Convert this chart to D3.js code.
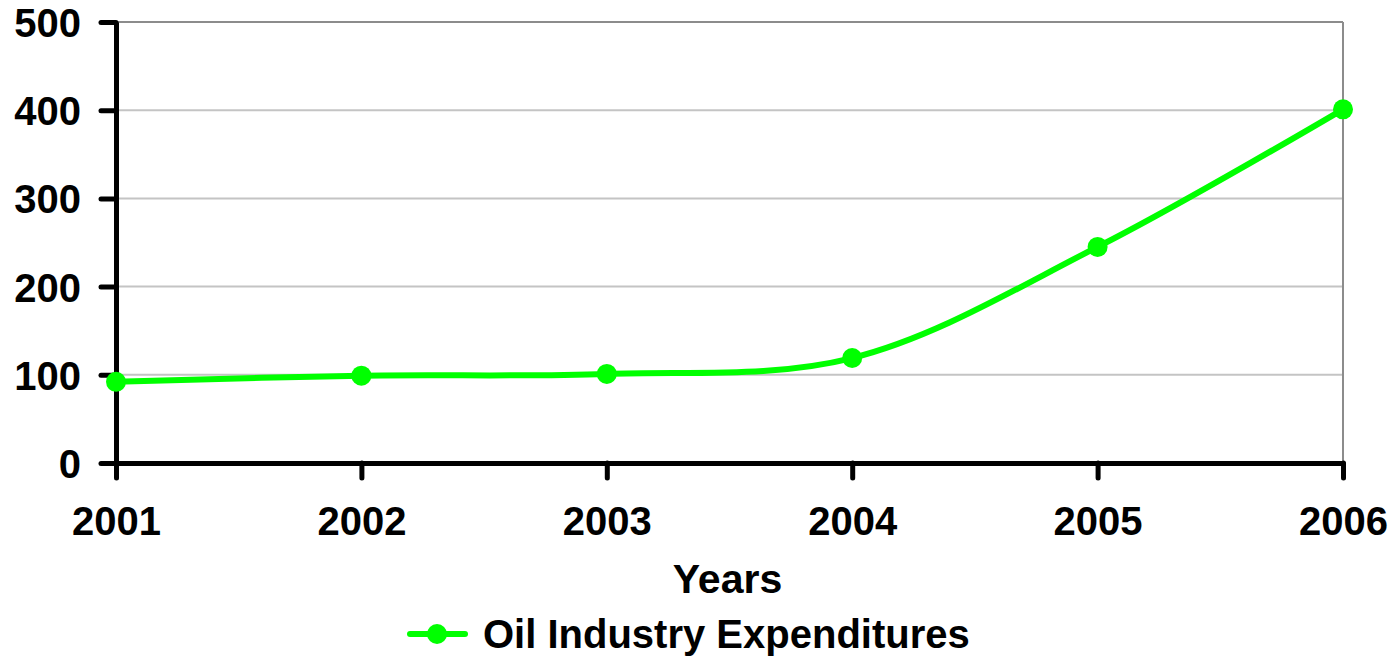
<!DOCTYPE html>
<html>
<head>
<meta charset="utf-8">
<script src="https://cdn.jsdelivr.net/npm/d3@7"></script>
<style>
  body { margin: 0; background: #fff; }
  text { font-family: "Liberation Sans", Arial, sans-serif; font-weight: bold; fill: #000; }
</style>
</head>
<body>
<div id="chart"></div>
<script>
// chart values
var years = ["2001", "2002", "2003", "2004", "2005", "2006"];
var expenditures = [92, 99, 101, 119, 245, 401];
var yTicks = [0, 100, 200, 300, 400, 500];
var seriesName = "Oil Industry Expenditures";
var xTitle = "Years";

var W = 1396, H = 660;
var margin = {top: 22, right: 53, bottom: 197, left: 116};
var width = W - margin.left - margin.right,
    height = H - margin.top - margin.bottom;

var svg = d3.select("#chart").append("svg")
    .attr("width", W)
    .attr("height", H)
  .append("g")
    .attr("transform", "translate(" + margin.left + "," + margin.top + ")");

var x = d3.scalePoint().domain(years).range([0, width]);
var y = d3.scaleLinear().domain([0, 500]).range([height, 0]);

// grid lines
svg.append("g")
  .selectAll("line")
  .data(yTicks.filter(function(d) { return d > 0; }))
  .enter().append("line")
    .attr("x1", 0).attr("x2", width)
    .attr("y1", function(d) { return y(d); })
    .attr("y2", function(d) { return y(d); })
    .attr("stroke", function(d) { return d === 500 ? "#8c8c8c" : "#c4c4c4"; })
    .attr("stroke-width", 2);

// right border
svg.append("line")
  .attr("x1", width).attr("x2", width)
  .attr("y1", 0).attr("y2", height)
  .attr("stroke", "#8c8c8c").attr("stroke-width", 2);

// axes
var yAxis = d3.axisLeft(y).tickValues(yTicks).tickSize(15).tickPadding(20).tickSizeOuter(0);
var xAxis = d3.axisBottom(x).tickSize(15).tickPadding(28).tickSizeOuter(0);

var yG = svg.append("g").call(yAxis);
var xG = svg.append("g").attr("transform", "translate(0," + height + ")").call(xAxis);

[yG, xG].forEach(function(g) {
  g.select(".domain").attr("stroke", "#000").attr("stroke-width", 5);
  g.selectAll(".tick line").attr("stroke", "#000").attr("stroke-width", 5).attr("stroke-linecap", "round");
  g.selectAll(".tick text").style("font-size", "40px").attr("fill", "#000");
});
yG.selectAll(".tick text").attr("dy", "0.36em");
xG.selectAll(".tick text").attr("dy", "0.72em");

// series line
var line = d3.line()
  .x(function(d, i) { return x(years[i]); })
  .y(function(d) { return y(d); })
  .curve(d3.curveCatmullRom.alpha(0.5));

svg.append("path")
  .datum(expenditures)
  .attr("d", line)
  .attr("fill", "none")
  .attr("stroke", "#00ff00")
  .attr("stroke-width", 6);

svg.selectAll(".dot")
  .data(expenditures)
  .enter().append("circle")
    .attr("class", "dot")
    .attr("cx", function(d, i) { return x(years[i]); })
    .attr("cy", function(d) { return y(d); })
    .attr("r", 10)
    .attr("fill", "#00ff00");

// axis title
svg.append("text")
  .attr("x", x("2001") + (x("2006") - x("2001")) / 2 - 2)
  .attr("y", height + 130)
  .attr("text-anchor", "middle")
  .style("font-size", "41px")
  .text(xTitle);

// legend
var leg = svg.append("g").attr("transform", "translate(" + (410 - margin.left) + "," + (634 - margin.top) + ")");
leg.append("line")
  .attr("x1", 0).attr("x2", 55)
  .attr("stroke", "#00ff00").attr("stroke-width", 6).attr("stroke-linecap", "round");
leg.append("circle").attr("cx", 27).attr("r", 10).attr("fill", "#00ff00");
leg.append("text")
  .attr("x", 73)
  .attr("y", 0)
  .attr("dy", "0.36em")
  .style("font-size", "40px")
  .text(seriesName);
</script>
</body>
</html>
